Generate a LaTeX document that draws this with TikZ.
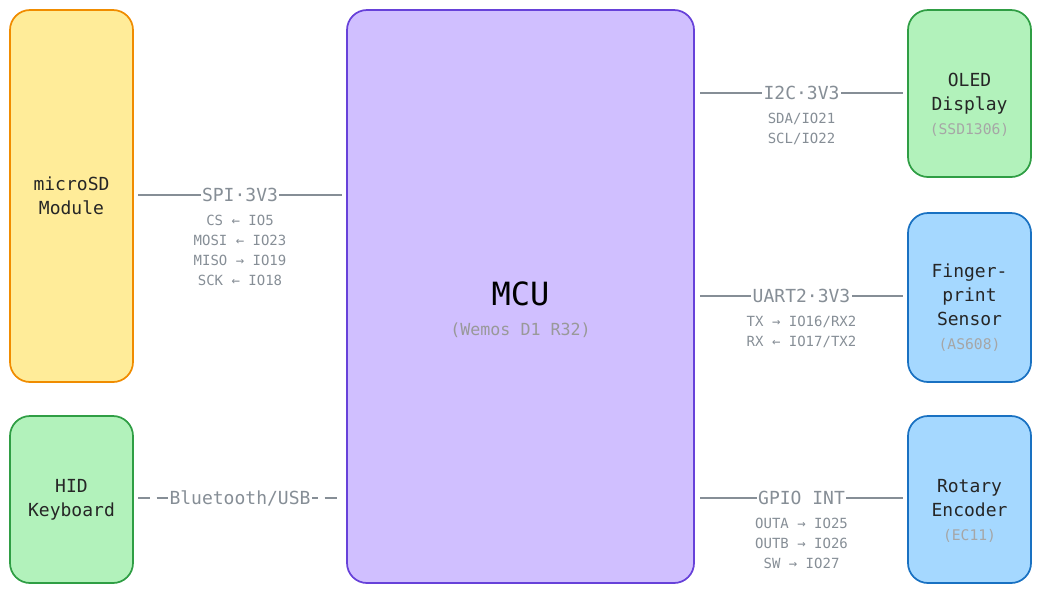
\documentclass[tikz,border=0pt]{standalone}
\usepackage{fontspec}
\setmainfont{DejaVu Sans Mono}
\usetikzlibrary{positioning}
\begin{document}
\begin{tikzpicture}[x=0.75pt,y=-0.75pt,
  blk/.style={draw, line width=1.3pt, rounded corners=15pt, align=center, font=\fontsize{13.5}{18}\selectfont, text=black!85},
  yel/.style={blk, fill={rgb,255:red,255;green,236;blue,153}, draw={rgb,255:red,240;green,140;blue,0}},
  grn/.style={blk, fill={rgb,255:red,178;green,242;blue,187}, draw={rgb,255:red,47;green,158;blue,68}},
  blu/.style={blk, fill={rgb,255:red,165;green,216;blue,255}, draw={rgb,255:red,25;green,113;blue,194}},
  pur/.style={blk, fill={rgb,255:red,208;green,191;blue,255}, draw={rgb,255:red,103;green,65;blue,217}},
  txt/.style={align=center, font=\fontsize{13.5}{18}\selectfont, text=black!85},
  sub/.style={text=gray!80},
  wire/.style={draw={rgb,255:red,134;green,142;blue,150}, line width=1.2pt},
  lbl/.style={fill=white, inner sep=1pt, text={rgb,255:red,134;green,142;blue,150}, font=\fontsize{13.5}{16}\selectfont},
  pins/.style={align=center, text={rgb,255:red,134;green,142;blue,150}, font=\fontsize{10.5}{15}\selectfont}]
\useasboundingbox (0,0) rectangle (1041,594);
\node[yel, minimum width=123pt*0.75, minimum height=372pt*0.75] (sd) at (71.5,196) {microSD\\Module};
\node[grn, minimum width=123pt*0.75, minimum height=167pt*0.75] (hid) at (71.5,499.5) {HID\\Keyboard};
\node[pur, minimum width=347pt*0.75, minimum height=573pt*0.75] (mcu) at (520.5,296.5) {};
\node[font=\fontsize{24}{28}\selectfont] (mcut) at (520.5,294) {MCU};
\node[sub, font=\fontsize{12.5}{14}\selectfont] (mcus) at (520.5,330) {(Wemos D1 R32)};
\node[grn, minimum width=123pt*0.75, minimum height=167pt*0.75] (oled) at (969.5,93.5) {};
\node[txt] (oledt) at (969.5,105) {OLED\\Display\\{\color{gray!70}\fontsize{11}{18}\selectfont(SSD1306)}};
\node[blu, minimum width=123pt*0.75, minimum height=169pt*0.75] (fp) at (969.5,297.5) {};
\node[txt] (fpt) at (969.5,308) {Finger-\\print\\Sensor\\{\color{gray!70}\fontsize{11}{18}\selectfont(AS608)}};
\node[blu, minimum width=123pt*0.75, minimum height=167pt*0.75] (rot) at (969.5,499.5) {};
\node[txt] (rott) at (969.5,511) {Rotary\\Encoder\\{\color{gray!70}\fontsize{11}{18}\selectfont(EC11)}};
% wires
\coordinate (a1) at (138,195); \coordinate (a2) at (342,195);
\draw[wire] (a1) -- (a2) node[lbl, midway] (spi) {SPI·3V3};
\node[pins, below=5pt of spi] (spip) {CS ← IO5\\MOSI ← IO23\\MISO → IO19\\SCK ← IO18};
\coordinate (b1) at (138,498); \coordinate (b2) at (342,498);
\draw[wire, dash pattern=on 9pt off 5pt] (b1) -- (b2) node[lbl, midway] (bt) {Bluetooth/USB};
\coordinate (c1) at (700,93); \coordinate (c2) at (903,93);
\draw[wire] (c1) -- (c2) node[lbl, midway] (i2c) {I2C·3V3};
\node[pins, below=5pt of i2c] (i2cp) {SDA/IO21\\SCL/IO22};
\coordinate (d1) at (700,296); \coordinate (d2) at (903,296);
\draw[wire] (d1) -- (d2) node[lbl, midway] (uart) {UART2·3V3};
\node[pins, below=5pt of uart] (uartp) {TX → IO16/RX2\\RX ← IO17/TX2};
\coordinate (e1) at (700,498); \coordinate (e2) at (903,498);
\draw[wire] (e1) -- (e2) node[lbl, midway] (gpio) {GPIO INT};
\node[pins, below=5pt of gpio] (gpiop) {OUTA → IO25\\OUTB → IO26\\SW → IO27};
\end{tikzpicture}
\end{document}
